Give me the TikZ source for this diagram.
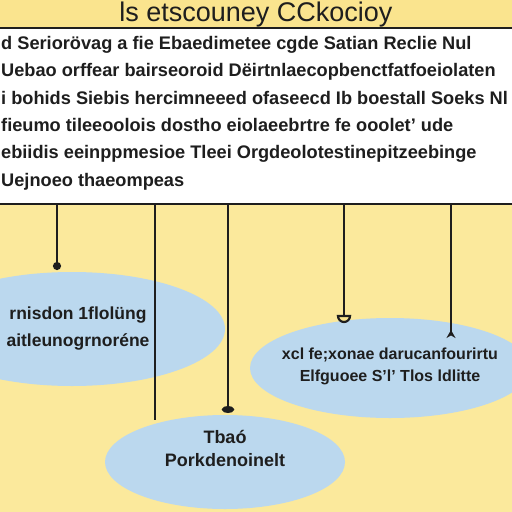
\documentclass[tikz,border=0pt]{standalone}
\usepackage{fontspec}
\setmainfont{Liberation Sans}
\usetikzlibrary{arrows.meta, shapes.geometric}
\definecolor{bgcolor}{HTML}{FBE99C}
\definecolor{titlecolor}{HTML}{FAE48E}
\definecolor{bubblecolor}{HTML}{BBD8EE}
\definecolor{inkcolor}{HTML}{1E1E1E}

\begin{document}
\begin{tikzpicture}[
    x=1pt, y=-1pt,
    bubble/.style={ellipse, fill=bubblecolor, inner sep=0pt},
    bubbletext/.style={align=center, text=inkcolor, inner sep=0pt},
    stem/.style={draw=inkcolor, line width=2.6pt}
]
    \clip (0,0) rectangle (512,512);
    \fill[bgcolor] (0,0) rectangle (512,512);

    % Title band
    \fill[titlecolor] (0,0) rectangle (512,27);
    \node[inkcolor, font=\fontsize{27}{27}\selectfont, anchor=base] (title) at (256,21) {ls etscouney CCkocioy};

    % Text panel
    \node[draw=inkcolor, line width=1.6pt, fill=white, minimum width=540pt, minimum height=176pt, anchor=north, inner sep=0pt] (panel) at (256,27) {};
    \node[anchor=north west, align=left, inner sep=0pt, text=inkcolor, font=\fontsize{18.2}{27.4}\selectfont\bfseries] (body) at (1,36) {%
        d Seriorövag a fie Ebaedimetee cgde Satian Reclie Nul\\
        Uebao orffear bairseoroid Dëirtnlaecopbenctfatfoeiolaten\\
        i bohids Siebis hercimneeed ofaseecd Ib boestall Soeks Nl\\
        fieumo tileeoolois dostho eiolaeebrtre fe ooolet' ude\\
        ebiidis eeinppmesioe Tleei Orgdeolotestinepitzeebinge\\
        Uejnoeo thaeompeas};

    % Bubbles
    \node[bubble, minimum width=306pt, minimum height=114pt] (leftbubble) at (72,329) {};
    \node[bubble, minimum width=240pt, minimum height=94pt] (lowbubble) at (225,462) {};
    \node[bubble, minimum width=280pt, minimum height=100pt] (rightbubble) at (390,368) {};

    \node[bubbletext, font=\fontsize{17.5}{27}\selectfont\bfseries] (lefttext) at (leftbubble.center) [xshift=6pt] {rnisdon 1flolüng\\aitleunogrnoréne};
    \node[bubbletext, font=\fontsize{18}{23}\selectfont\bfseries] (lowtext) at (lowbubble.center) [yshift=14pt] {Tbaó\\Porkdenoinelt};
    \node[bubbletext, font=\fontsize{16}{22}\selectfont\bfseries] (righttext) at (rightbubble.center) [yshift=2pt] {xcl fe;xonae darucanfourirtu\\Elfguoee S'l' Tlos ldlitte};

    % Stems
    \coordinate (end1) at (57,270);
    \coordinate (end2) at (155,420);
    \coordinate (end3) at (228,413);
    \coordinate (end4) at (344,316);
    \coordinate (end5) at (451,338);

    \draw[stem, -{Circle[length=8pt]}] (panel.south -| end1) -- (end1);
    \draw[stem] (panel.south -| end2) -- (end2);
    \draw[stem, -{Ellipse[length=7pt, width=12pt]}] (panel.south -| end3) -- (end3);
    \draw[stem] (panel.south -| end4) -- (end4);
    \draw[inkcolor, line width=2.2pt, fill=titlecolor] (end4) ++(-6,0) arc (180:0:6) -- cycle;
    \draw[stem, -{Stealth[reversed, length=8pt, width=9pt]}] (panel.south -| end5) -- (end5);
\end{tikzpicture}
\end{document}
